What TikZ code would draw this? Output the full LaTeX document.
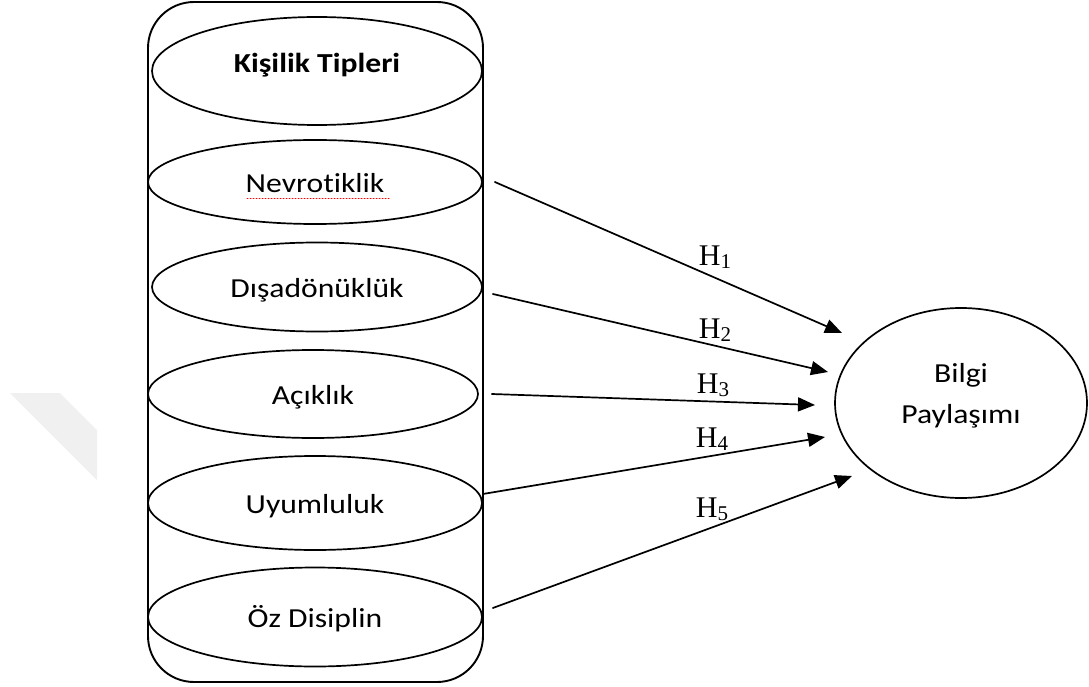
\documentclass[tikz,border=0pt]{standalone}
\usepackage{fontspec}
\setmainfont{Carlito}[FakeStretch=1.15, Ligatures=NoCommon]
\newfontfamily\hypfont{Liberation Serif}
\usetikzlibrary{shapes.geometric,arrows.meta}

% hypothesis label, H with a lowered index
\newcommand{\hyp}[1]{{\hypfont\fontsize{30}{30}\selectfont H\raisebox{-3pt}{\fontsize{21}{21}\selectfont #1}}}

\tikzset{
  trait/.style={ellipse, draw, line width=1.7pt, inner sep=0pt,
    minimum width=334pt, text height=21pt, text depth=0pt,
    font=\fontsize{27.5}{33}\selectfont},
  hyparrow/.style={line width=1.7pt, -{Triangle[length=17pt,width=14pt]}},
}

\begin{document}
\begin{tikzpicture}[x=1pt, y=-1pt, line cap=round, line join=round]
\useasboundingbox (0,0) rectangle (1089,687);

% faint mark on the left
\fill[black!6] (10,393) -- (60,393) -- (97,430) -- (97,480) -- cycle;

% the frame round the personality types
\draw[line width=1.9pt, rounded corners=46pt] (148,2) rectangle (483,682);

\node[trait, minimum width=330pt, minimum height=108pt, text depth=17pt,
  font=\bfseries\fontsize{27.5}{33}\selectfont] (kt) at (317,71) {Kişilik Tipleri};
\node[trait, minimum height=84pt] (nev) at (315,182) {Nevrotiklik};
\node[trait, minimum width=330pt, minimum height=89pt] (dis) at (317,287) {Dışadönüklük};
\node[trait, minimum width=330pt, minimum height=88pt] (aci) at (313,394) {Açıklık};
\node[trait, minimum height=94pt] (uyu) at (315,503) {Uyumluluk};
\node[trait, minimum height=99pt] (oz) at (315,617) {Öz Disiplin};

% spelling mark under Nevrotiklik
\draw[red, line width=1pt, dash pattern=on 1pt off 2pt] (247,199) -- (390,199);

\node[ellipse, draw, line width=1.7pt, inner sep=0pt, minimum width=252pt,
  minimum height=190pt, align=center, text depth=20pt,
  font=\fontsize{27.5}{41}\selectfont] (bp) at (961,403) {Bilgi\\Paylaşımı};

% arrow tips
\coordinate (t1) at (842,333);
\coordinate (t2) at (828,372);
\coordinate (t3) at (815,405);
\coordinate (t4) at (825,437);
\coordinate (t5) at (852,476);

\draw[hyparrow] ([xshift=12pt]nev.east) -- (t1);
\draw[hyparrow] ([xshift=10pt,yshift=-7pt]dis.east) -- (t2);
\draw[hyparrow] ([xshift=13pt]aci.east) -- (t3);
\draw[hyparrow] ([yshift=9pt]uyu.east) -- (t4);
\draw[hyparrow] ([xshift=10pt,yshift=9pt]oz.east) -- (t5);

\node[anchor=base] (h1) at (715,265) {\hyp{1}};
\node[anchor=base] (h2) at (715,338) {\hyp{2}};
\node[anchor=base] (h3) at (713,393) {\hyp{3}};
\node[anchor=base] (h4) at (712,447) {\hyp{4}};
\node[anchor=base] (h5) at (712,517) {\hyp{5}};
\end{tikzpicture}
\end{document}
